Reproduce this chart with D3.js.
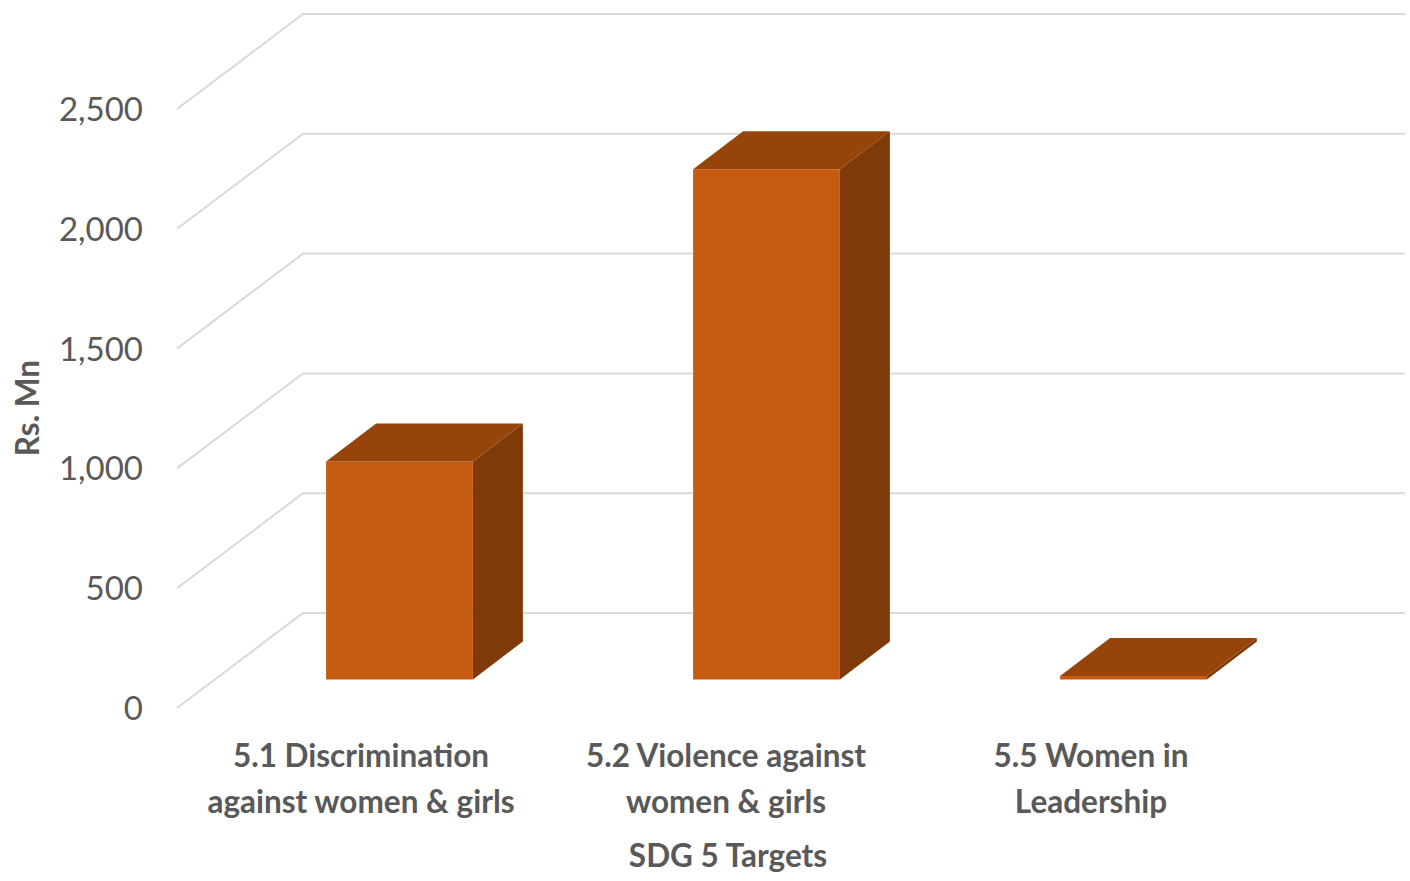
<!DOCTYPE html>
<html>
<head>
<meta charset="utf-8">
<style>html,body{margin:0;padding:0;background:#fff}svg{display:block}</style>
<script src="https://cdn.jsdelivr.net/npm/d3@7/dist/d3.min.js"></script>
</head>
<body>
<svg id="chart" width="1410" height="881"></svg>
<script>
const categories = ["5.1 Discrimination|against women & girls", "5.2 Violence against|women & girls", "5.5 Women in|Leadership"];
const values = [910, 2130, 15];
const yTicks = [0, 500, 1000, 1500, 2000, 2500];
const yTitle = "Rs. Mn";
const xTitle = "SDG 5 Targets";

const svg = d3.select("#chart");
const font = "Lato, Carlito, sans-serif";
const y = d3.scaleLinear().domain([0, 2500]).range([708, 109]);
const x = d3.scaleBand().domain(categories).range([216, 1317]).paddingInner(0.6).paddingOuter(0.3);
const xl = d3.scalePoint().domain(categories).range([361, 1091]);

// wall / floor depth
const wallDx = 126, wallDy = -95, wallLeft = 177, wallRight = 1405;
// bar depth and placement inside the floor
const barDx = 50, barDy = -38, baseShift = -28.5;

const grid = svg.append("g").attr("fill", "none").attr("stroke", "#d9d9d9").attr("stroke-width", 2);
yTicks.forEach(t => {
  const p = d3.path();
  p.moveTo(wallLeft, y(t));
  p.lineTo(wallLeft + wallDx, y(t) + wallDy);
  p.lineTo(wallRight, y(t) + wallDy);
  grid.append("path").attr("d", p.toString());
});

const poly = pts => "M" + pts.map(p => p.join(",")).join("L") + "Z";
const bars = svg.append("g").selectAll("g").data(categories).join("g");
bars.each(function (c, i) {
  const g = d3.select(this);
  const x0 = x(c), x1 = x0 + x.bandwidth();
  const yb = y(0) + baseShift;
  const yt = yb - (y(0) - y(values[i]));
  g.append("path").attr("fill", "#7f3a09")
    .attr("d", poly([[x1, yb], [x1 + barDx, yb + barDy], [x1 + barDx, yt + barDy], [x1, yt]]));
  g.append("path").attr("fill", "#c55a11")
    .attr("d", poly([[x0, yb], [x1, yb], [x1, yt], [x0, yt]]));
  g.append("path").attr("fill", "#964409")
    .attr("d", poly([[x0, yt], [x1, yt], [x1 + barDx, yt + barDy], [x0 + barDx, yt + barDy]]));
});

svg.append("g").selectAll("text").data(yTicks).join("text")
  .attr("x", 143).attr("y", d => y(d) + 12)
  .attr("text-anchor", "end").attr("font-family", font).attr("font-size", 33).attr("fill", "#595959")
  .text(d3.format(","));

const labels = svg.append("g").selectAll("text").data(categories).join("text")
  .attr("text-anchor", "middle").attr("font-family", font).attr("font-size", 31.5)
  .attr("font-weight", 700).attr("fill", "#595959");
labels.each(function (c) {
  const t = d3.select(this);
  c.split("|").forEach((line, i) => {
    t.append("tspan").attr("x", xl(c)).attr("y", 767 + i * 46).text(line);
  });
});

svg.append("text").attr("x", 728).attr("y", 867).attr("text-anchor", "middle")
  .attr("font-family", font).attr("font-size", 31.5).attr("font-weight", 700).attr("fill", "#595959").text(xTitle);
svg.append("text").attr("transform", "translate(39,408) rotate(-90)").attr("text-anchor", "middle")
  .attr("font-family", font).attr("font-size", 31.5).attr("font-weight", 700).attr("fill", "#595959").text(yTitle);
</script>
</body>
</html>
